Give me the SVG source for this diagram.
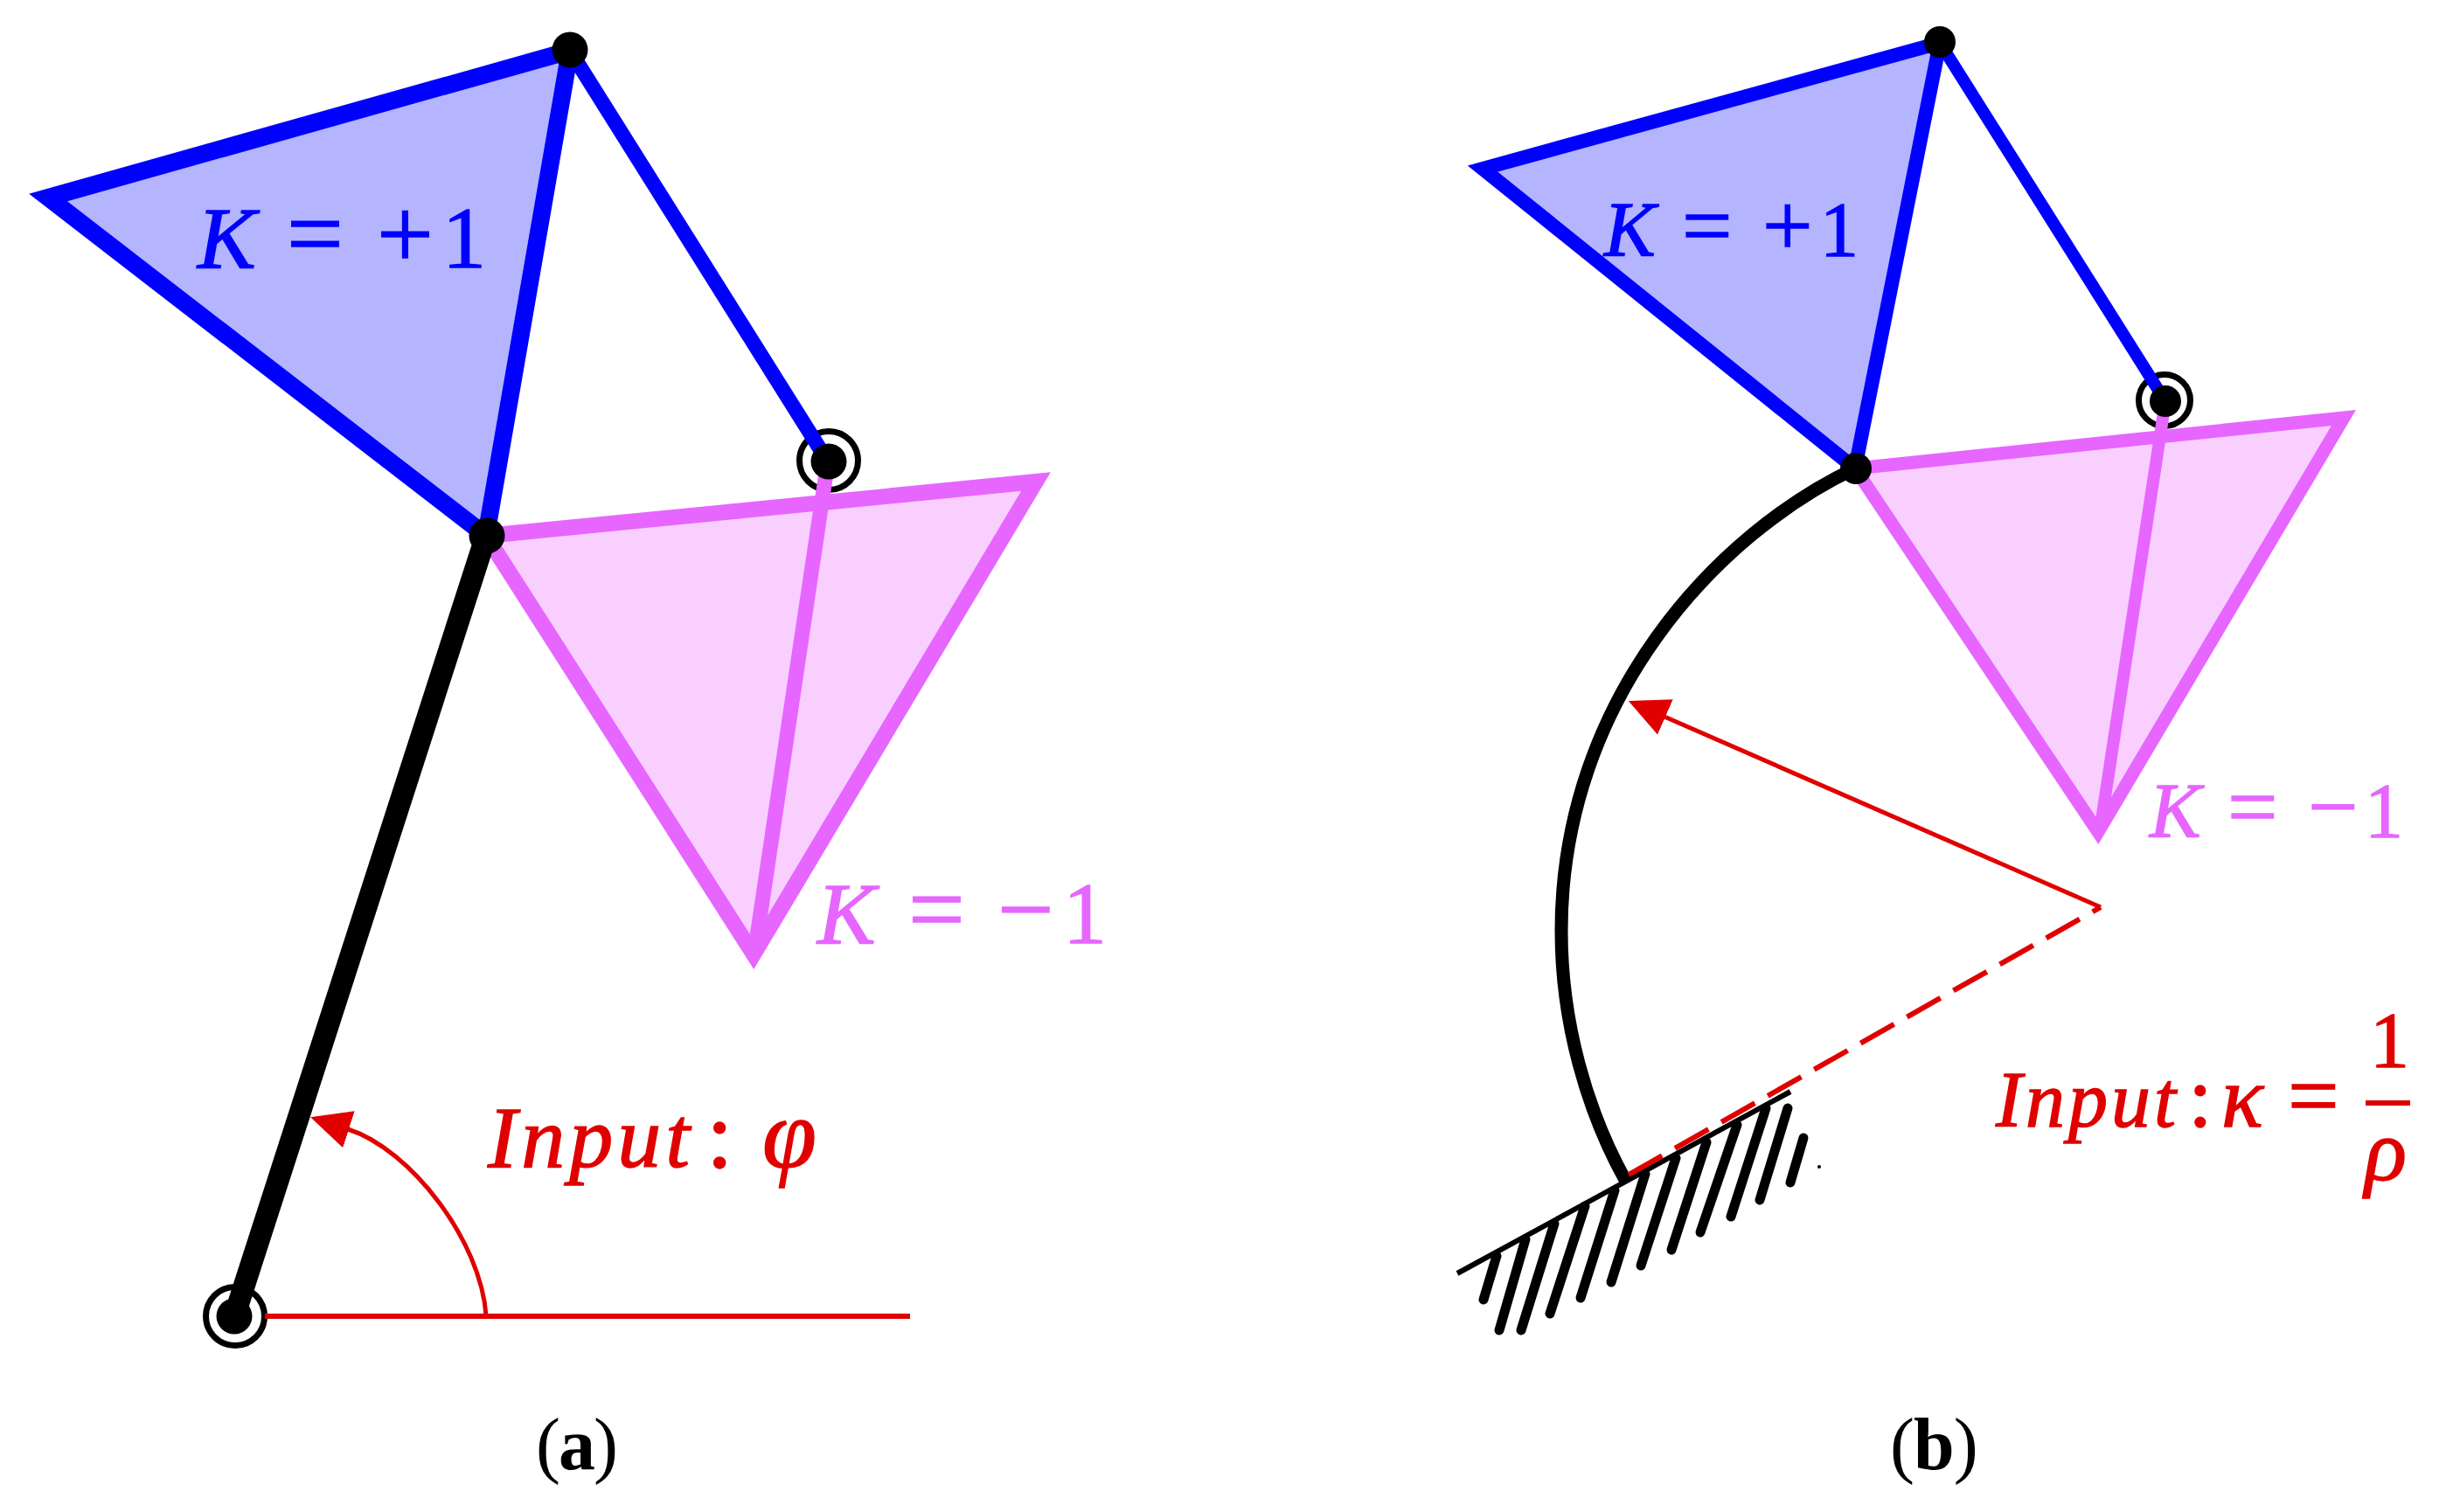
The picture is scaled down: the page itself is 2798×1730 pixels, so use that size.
<svg xmlns="http://www.w3.org/2000/svg" width="2798" height="1730" viewBox="0 0 2798 1730">
<style>
.blue{fill:#b4b4ff;stroke:#0000ff;stroke-linejoin:miter;stroke-miterlimit:10}
.pink{fill:#f9cfff;stroke:#e666ff;stroke-linejoin:miter;stroke-miterlimit:10}
.bl{stroke:#0000ff;fill:none}
.pl{stroke:#e666ff;fill:none}
.red{stroke:#e00000;fill:none;stroke-width:5}
.blk{stroke:#000;fill:none}
.ring{fill:#fff;stroke:#000;stroke-width:7}
.dot{fill:#000}
text{font-family:"Liberation Serif","Times New Roman",serif;stroke-width:1.4}
.it{font-style:italic}
.op{font-style:normal}
.tb{fill:#0000ff;stroke:#0000ff}.tp{fill:#e666ff;stroke:#e666ff}.tr{fill:#e00000;stroke:#e00000}.tk{fill:#000}
.hatch line{stroke:#000;stroke-width:11;stroke-linecap:round}
</style>
<defs>
<marker id="ah" markerUnits="userSpaceOnUse" markerWidth="48" markerHeight="48" viewBox="0 0 48 48" refX="1" refY="24" orient="auto"><path d="M0,2 L46,24 L0,46 z" fill="#e00000"/></marker>
</defs>
<rect width="2798" height="1730" fill="#fff"/>

<g id="panel-a-pivot-right"><circle class="ring" cx="948" cy="527" r="33.5"/></g>
<g id="panel-a-pivot-base"><circle class="ring" cx="269" cy="1506" r="33.5"/></g>
<g id="panel-a-coupler-neg"><polygon class="pink" stroke-width="18" points="556,613 1185,551 862,1092"/></g>
<g id="panel-a-coupler-pos"><polygon class="blue" stroke-width="20" points="652,58 55,226 556,613"/></g>
<g id="panel-a-connectors">
<line class="bl" stroke-width="17" x1="652" y1="58" x2="947" y2="528"/>
<line class="pl" stroke-width="17" x1="947" y1="528" x2="864" y2="1085"/>
<line class="blk" stroke-width="25" x1="556" y1="613" x2="269" y2="1503"/>
<line class="red" style="stroke-width:6" x1="303" y1="1506" x2="1041" y2="1506"/>
<path class="red" d="M556,1505 C550,1420 470,1315 398,1292" marker-end="url(#ah)"/>
</g>
<g id="panel-a-joint-right"><circle class="dot" cx="948" cy="528" r="20.5"/></g>
<g id="panel-a-joint-top"><circle class="dot" cx="652" cy="57" r="20.5"/></g>
<g id="panel-a-joint-mid"><circle class="dot" cx="557" cy="613" r="20.5"/></g>
<g id="panel-a-joint-base"><circle class="dot" cx="268" cy="1506" r="20.5"/></g>
<g id="panel-a-labels">
<text class="it tb" font-size="100" y="306"><tspan x="226">K</tspan><tspan class="op" font-size="115" x="328">=</tspan><tspan class="op" font-size="115" x="431">+</tspan><tspan class="op" x="506">1</tspan></text>
<text class="it tp" font-size="100" y="1079"><tspan x="935">K</tspan><tspan class="op" font-size="115" x="1039">=</tspan><tspan class="op" font-size="115" x="1141">−</tspan><tspan class="op" x="1216">1</tspan></text>
<text class="it tr" font-size="100" y="1335" x="558" letter-spacing="5">Input<tspan class="op" font-size="110" x="808">:</tspan><tspan font-size="112" x="872">φ</tspan></text>
<text class="tk" font-size="84" y="1681" x="613" letter-spacing="-2">(<tspan font-weight="bold">a</tspan>)</text>
</g>

<g id="panel-b-pivot-right"><circle class="ring" cx="2476" cy="458" r="29.5"/></g>
<g id="panel-b-coupler-neg"><polygon class="pink" stroke-width="15" points="2122,536 2681,478 2400,952"/></g>
<g id="panel-b-coupler-pos"><polygon class="blue" stroke-width="16" points="2219,49 1696,193 2122,536"/></g>
<g id="panel-b-ground" class="hatch">
<line x1="1712" y1="1437" x2="1697" y2="1487"/><line x1="1745" y1="1418" x2="1715" y2="1522"/><line x1="1778" y1="1400" x2="1740" y2="1522"/><line x1="1813" y1="1380" x2="1773" y2="1503"/><line x1="1847" y1="1362" x2="1808" y2="1485"/><line x1="1882" y1="1343" x2="1843" y2="1467"/><line x1="1917" y1="1325" x2="1877" y2="1448"/><line x1="1952" y1="1307" x2="1912" y2="1430"/><line x1="1987" y1="1287" x2="1945" y2="1410"/><line x1="2020" y1="1268" x2="1980" y2="1392"/><line x1="2045" y1="1268" x2="2013" y2="1373"/><line x1="2063" y1="1302" x2="2048" y2="1353"/>
<line class="blk" style="stroke-width:6;stroke-linecap:butt" x1="1667" y1="1457" x2="2048" y2="1249"/>
<circle class="dot" cx="2081" cy="1335" r="2"/>
</g>
<g id="panel-b-connectors">
<line class="bl" stroke-width="14" x1="2219" y1="49" x2="2477" y2="459"/>
<line class="pl" stroke-width="14" x1="2477" y1="459" x2="2403" y2="945"/>
<path class="blk" stroke-width="15" d="M2122,536 C1965,610 1786,800 1786,1065 C1786,1170 1815,1270 1859,1350"/>
<line class="red" x1="2403" y1="1038" x2="1904" y2="820" marker-end="url(#ah)"/>
<line class="red" style="stroke-width:6" stroke-dasharray="44 17" x1="1863" y1="1344" x2="2403" y2="1038"/>
</g>
<g id="panel-b-joint-right"><circle class="dot" cx="2477" cy="459" r="18"/></g>
<g id="panel-b-joint-top"><circle class="dot" cx="2219" cy="48" r="18"/></g>
<g id="panel-b-joint-mid"><circle class="dot" cx="2123" cy="536" r="18"/></g>
<g id="panel-b-labels">
<text class="it tb" font-size="88" y="292"><tspan x="1835">K</tspan><tspan class="op" font-size="102" x="1924">=</tspan><tspan class="op" font-size="102" x="2016">+</tspan><tspan class="op" x="2082">1</tspan></text>
<text class="it tp" font-size="88" y="957"><tspan x="2459">K</tspan><tspan class="op" font-size="102" x="2548">=</tspan><tspan class="op" font-size="102" x="2640">−</tspan><tspan class="op" x="2705">1</tspan></text>
<text class="it tr" font-size="90" y="1289" x="2283" letter-spacing="4">Input<tspan class="op" font-size="100" x="2503">:</tspan><tspan font-size="100" x="2541">κ</tspan><tspan class="op" font-size="104" x="2617">=</tspan></text>
<text class="op tr" font-size="90" x="2711" y="1221">1</text>
<line class="red" style="stroke-width:6" x1="2706" y1="1262" x2="2757" y2="1262"/>
<text class="it tr" font-size="100" x="2705" y="1350">ρ</text>
<text class="tk" font-size="84" y="1681" x="2162" letter-spacing="-1">(<tspan font-weight="bold">b</tspan>)</text>
</g>
</svg>
